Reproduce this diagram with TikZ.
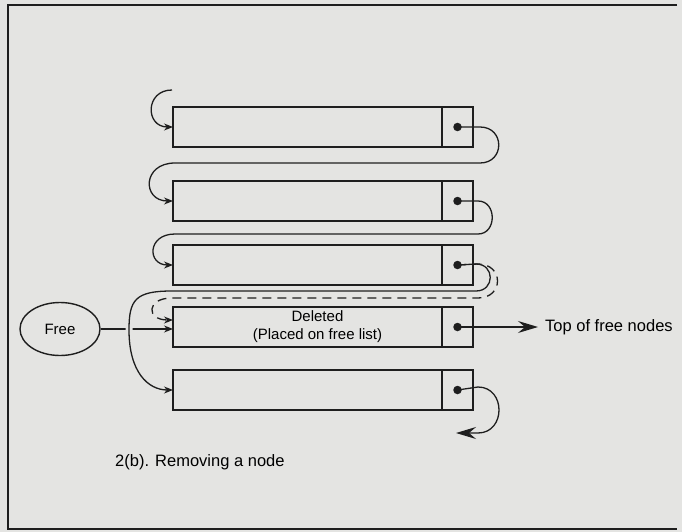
\documentclass[tikz,border=0pt]{standalone}
\usepackage{fontspec}
\setmainfont{Liberation Sans}
\usetikzlibrary{arrows.meta,shapes.geometric,backgrounds}
\definecolor{paper}{RGB}{228,228,226}
\definecolor{ink}{RGB}{30,30,30}

\begin{document}
\begin{tikzpicture}[x=1pt, y=-1pt,
  font=\fontsize{15}{18}\selectfont,
  cell/.style={draw=ink, line width=1.4pt, anchor=west,
    minimum height=40pt, inner sep=0pt, outer sep=0pt},
  ptr/.style={circle, fill=ink, minimum size=8.5pt, inner sep=0pt},
  lnk/.style={draw=ink, line width=1.3pt,
    -{Stealth[length=9pt,width=7pt]}},
  big/.style={draw=ink, line width=1.3pt,
    -{Stealth[length=20pt,width=12pt,inset=7pt]}},
  gap/.style={preaction={draw=paper, line width=7pt, -}},
  lbl/.style={anchor=west, inner sep=0pt,
    font=\fontsize{16.5}{18}\selectfont},
]
\begin{scope}[on background layer]
\fill[paper] (0,0) rectangle (682,532);
\end{scope}
\useasboundingbox (0,0) rectangle (682,532);
% frame
\draw[ink, line width=2.5pt] (677,5) -- (8,5) -- (8,529) -- (677,529);
% list nodes
\foreach \i/\y in {1/127, 2/201, 3/265, 4/327, 5/390} {
  \node[cell, minimum width=269pt] (n\i) at (173,\y) {};
  \node[cell, minimum width=31pt] (p\i) at (n\i.east) {};
  \node[ptr] (d\i) at (p\i.center) {};
}
\node[align=center] (del) at ([xshift=10pt]n4.center)
  {Deleted\\(Placed on free list)};
\node[draw=ink, ellipse, line width=1.4pt, minimum width=80pt,
  minimum height=53pt] (free) at (60,329) {Free};
\coordinate (head) at (172,90);
\coordinate (nil) at (456,433);
\node[lbl] (top) at (545,327) {Top of free nodes};
\node[lbl] (cap) at (115,462) {2(b). Removing a node};
% links
\begin{scope}[on background layer]
\draw[lnk] (free) -- (free -| n4.west);
\draw[lnk] (head) .. controls (145,90) and (145,127) .. (n1.west);
\draw[lnk] (d1.center) -- (480,127) .. controls (505,127) and (505,163)
  .. (480,163) -- (175,163) .. controls (142,163) and (142,201) .. (n2.west);
\draw[lnk] (d2.center) -- (478,201) .. controls (497,201) and (497,234)
  .. (478,234) -- (175,234) .. controls (147,234) and (147,265) .. (n3.west);
\draw[lnk, gap] (d3.center) -- (476,264) .. controls (495,264) and (495,291)
  .. (476,291) -- (172,291) .. controls (135,291) and (129,300) .. (129,330)
  .. controls (129,372) and (148,390) .. (n5.west);
\draw[lnk, dash pattern=on 9pt off 6pt] (d3.center) -- (478,264)
  .. controls (504,264) and (504,298) .. (478,298) -- (172,298)
  .. controls (146,298) and (146,320) .. ([yshift=7pt]n4.west);
\draw[big] (d4.center) -- ([xshift=-7pt]top.west);
\draw[big] (d5.center) -- (478,387) .. controls (506,387) and (506,433)
  .. (478,433) -- (nil);
\end{scope}
\end{tikzpicture}
\end{document}
